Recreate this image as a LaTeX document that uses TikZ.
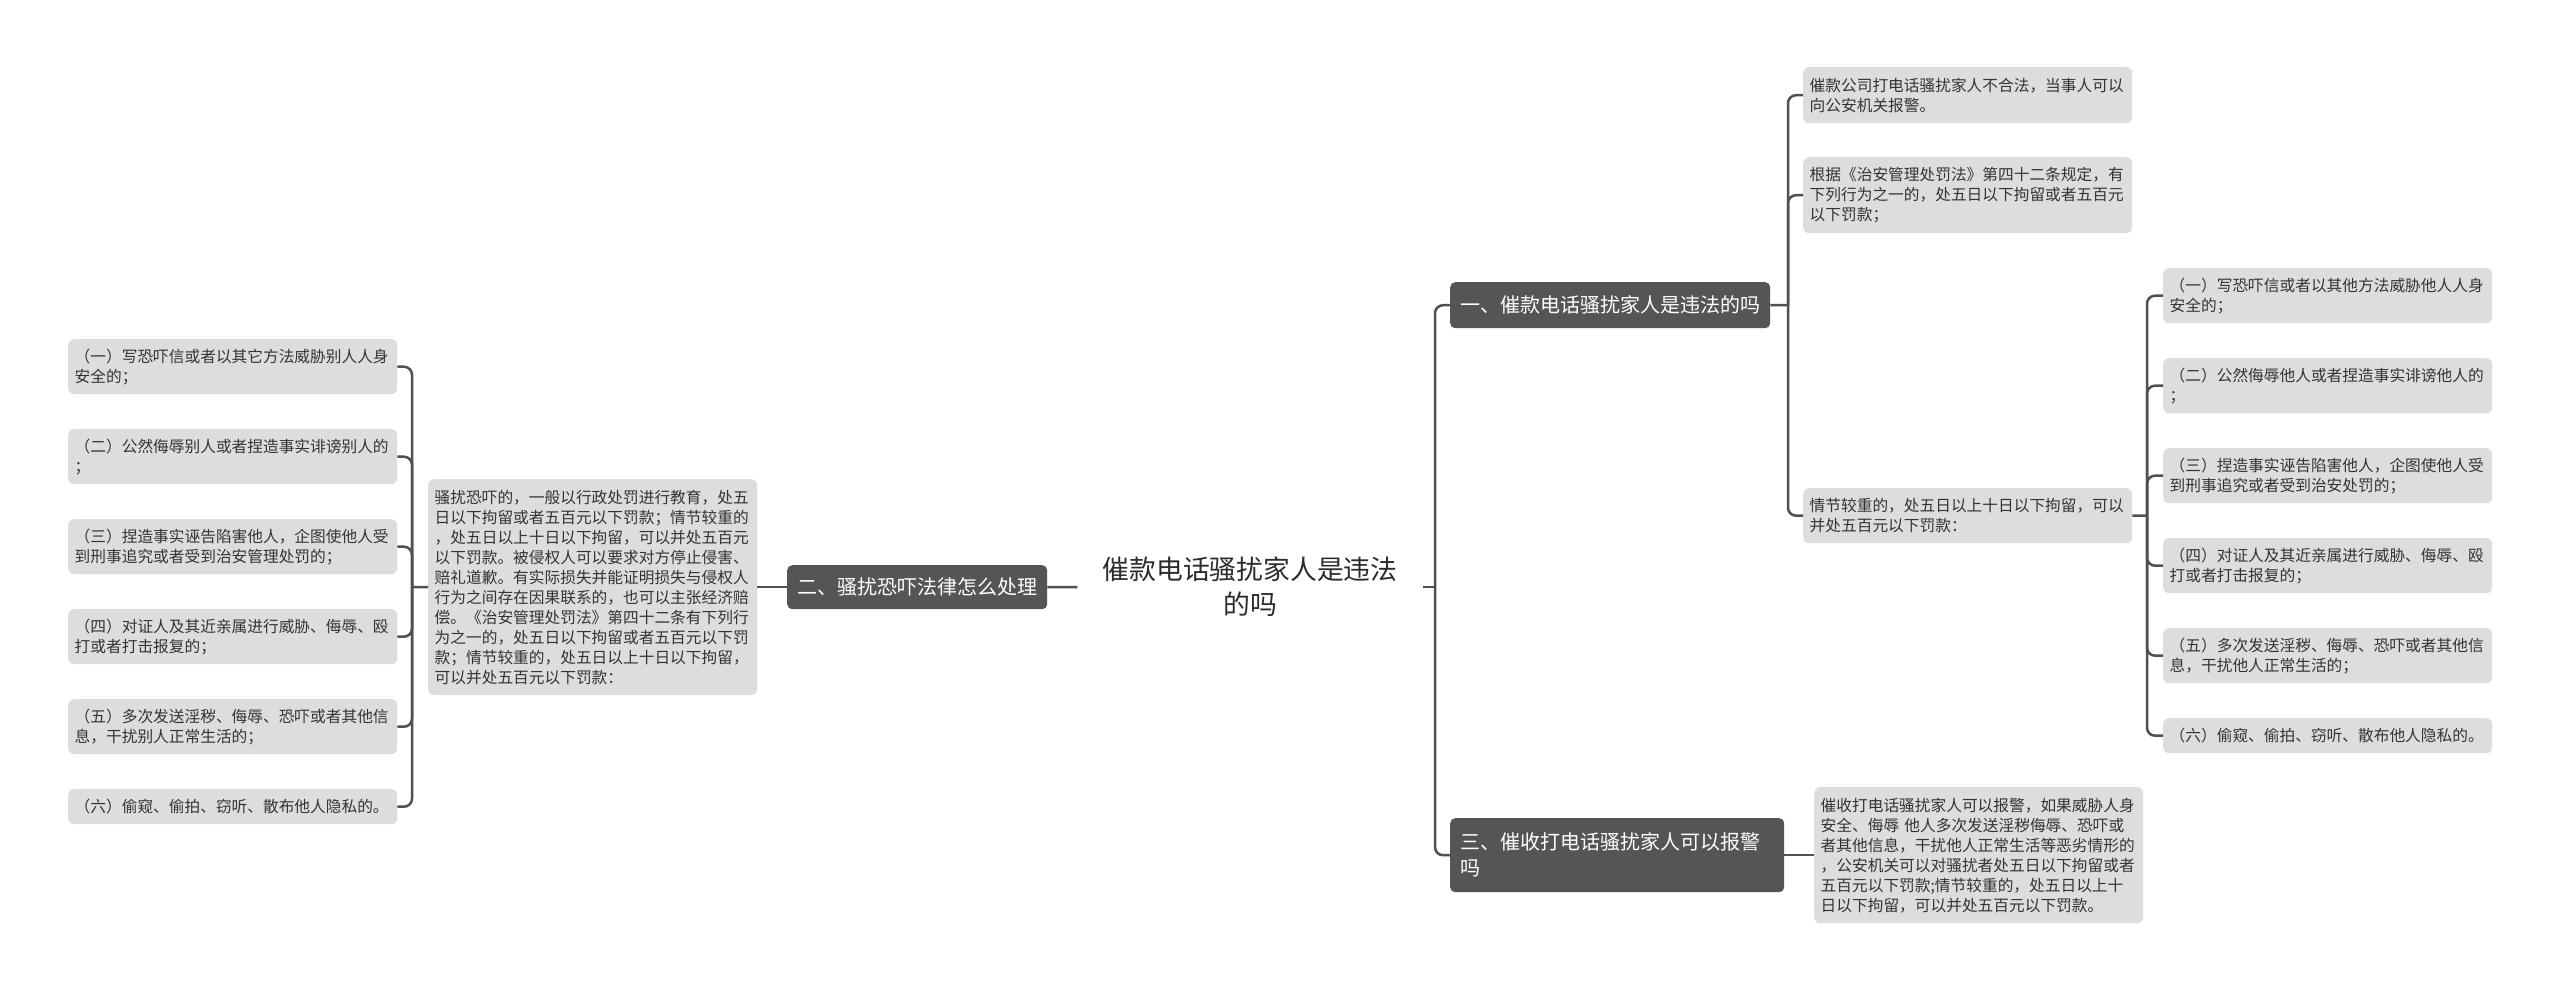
\documentclass[tikz,border=0pt]{standalone}
\usepackage{fontspec}
\newfontfamily\cjk{Noto Sans CJK SC}
\definecolor{leaffill}{HTML}{DDDDDD}
\definecolor{leaftext}{HTML}{333333}
\definecolor{topicfill}{HTML}{555555}
\definecolor{linecol}{HTML}{505050}
\definecolor{centertext}{HTML}{2B2B2B}
\tikzset{
  leaf/.style={fill=leaffill, rounded corners=6pt, text=leaftext,
    font=\cjk\fontsize{15.7pt}{20pt}\selectfont, text width=316pt, align=left,
    inner xsep=6.5pt, inner ysep=0pt, anchor=north west},
  topic/.style={fill=topicfill, rounded corners=5pt, text=white,
    font=\cjk\fontsize{20pt}{26pt}\selectfont, inner xsep=10pt, inner ysep=0pt,
    anchor=north west},
  conn/.style={draw=linecol, line width=2.5pt, rounded corners=8pt},
}
\begin{document}
\begin{tikzpicture}[x=1pt,y=-1pt]
\useasboundingbox[fill=white] (0,0) rectangle (2560,991);

% center
\node[font=\cjk\fontsize{26.8pt}{35pt}\selectfont, text=centertext, align=center,
  text width=296pt, inner xsep=24.5pt, inner ysep=4pt] (c) at (1250,587)
  {催款电话骚扰家人是违法\\的吗};

% left side
\node[topic, minimum height=44pt] (t2) at (787,565) {二、骚扰恐吓法律怎么处理};
\node[leaf, minimum height=216pt] (m2) at (428,479) {骚扰恐吓的，一般以行政处罚进行教育，处五\\日以下拘留或者五百元以下罚款；情节较重的\\，处五日以上十日以下拘留，可以并处五百元\\以下罚款。被侵权人可以要求对方停止侵害、\\赔礼道歉。有实际损失并能证明损失与侵权人\\行为之间存在因果联系的，也可以主张经济赔\\偿。《治安管理处罚法》第四十二条有下列行\\为之一的，处五日以下拘留或者五百元以下罚\\款；情节较重的，处五日以上十日以下拘留，\\可以并处五百元以下罚款：};

\node[leaf, minimum height=55pt] (l1) at (68,339) {（一）写恐吓信或者以其它方法威胁别人人身\\安全的；};
\node[leaf, minimum height=55pt] (l2) at (68,429) {（二）公然侮辱别人或者捏造事实诽谤别人的\\；};
\node[leaf, minimum height=55pt] (l3) at (68,519) {（三）捏造事实诬告陷害他人，企图使他人受\\到刑事追究或者受到治安管理处罚的；};
\node[leaf, minimum height=55pt] (l4) at (68,609) {（四）对证人及其近亲属进行威胁、侮辱、殴\\打或者打击报复的；};
\node[leaf, minimum height=55pt] (l5) at (68,699) {（五）多次发送淫秽、侮辱、恐吓或者其他信\\息，干扰别人正常生活的；};
\node[leaf, minimum height=35pt] (l6) at (68,789) {（六）偷窥、偷拍、窃听、散布他人隐私的。};

% right side
\node[topic, minimum height=46pt] (t1) at (1450,282) {一、催款电话骚扰家人是违法的吗};
\node[topic, minimum height=74pt, text width=314pt, align=left] (t3) at (1450,818) {三、催收打电话骚扰家人可以报警\\吗};

\node[leaf, minimum height=56pt] (a) at (1803,67) {催款公司打电话骚扰家人不合法，当事人可以\\向公安机关报警。};
\node[leaf, minimum height=76pt] (b) at (1803,157) {根据《治安管理处罚法》第四十二条规定，有\\下列行为之一的，处五日以下拘留或者五百元\\以下罚款；};
\node[leaf, minimum height=55pt] (cc) at (1803,488) {情节较重的，处五日以上十日以下拘留，可以\\并处五百元以下罚款：};

\node[leaf, minimum height=55pt] (r1) at (2163,268) {（一）写恐吓信或者以其他方法威胁他人人身\\安全的；};
\node[leaf, minimum height=55pt] (r2) at (2163,358) {（二）公然侮辱他人或者捏造事实诽谤他人的\\；};
\node[leaf, minimum height=55pt] (r3) at (2163,448) {（三）捏造事实诬告陷害他人，企图使他人受\\到刑事追究或者受到治安处罚的；};
\node[leaf, minimum height=55pt] (r4) at (2163,538) {（四）对证人及其近亲属进行威胁、侮辱、殴\\打或者打击报复的；};
\node[leaf, minimum height=55pt] (r5) at (2163,628) {（五）多次发送淫秽、侮辱、恐吓或者其他信\\息，干扰他人正常生活的；};
\node[leaf, minimum height=35pt] (r6) at (2163,718) {（六）偷窥、偷拍、窃听、散布他人隐私的。};

\node[leaf, minimum height=136pt] (d) at (1814,787) {催收打电话骚扰家人可以报警，如果威胁人身\\安全、侮辱 他人多次发送淫秽侮辱、恐吓或\\者其他信息，干扰他人正常生活等恶劣情形的\\，公安机关可以对骚扰者处五日以下拘留或者\\五百元以下罚款;情节较重的，处五日以上十\\日以下拘留，可以并处五百元以下罚款。};

% connectors
\coordinate (lv) at (412,587);
\coordinate (rv) at (1435,587);
\coordinate (v1) at (1788,305);
\coordinate (v2) at (2147,515.5);

\draw[conn] (t2.east) -- (c.west);
\draw[conn] (m2.east) -- (t2.west);
\draw[conn] (m2.west) -- (lv);
\foreach \n in {l1,l2,l3,l4,l5,l6} \draw[conn] (lv) |- (\n.east);

\draw[conn] (c.east) -- (rv);
\draw[conn] (rv) |- (t1.west);
\draw[conn] (rv) |- (t3.west);
\draw[conn] (t1.east) -- (v1);
\foreach \n in {a,b,cc} \draw[conn] (v1) |- (\n.west);
\draw[conn] (cc.east) -- (v2);
\foreach \n in {r1,r2,r3,r4,r5,r6} \draw[conn] (v2) |- (\n.west);
\draw[conn] (t3.east) -- (d.west);
\end{tikzpicture}
\end{document}
